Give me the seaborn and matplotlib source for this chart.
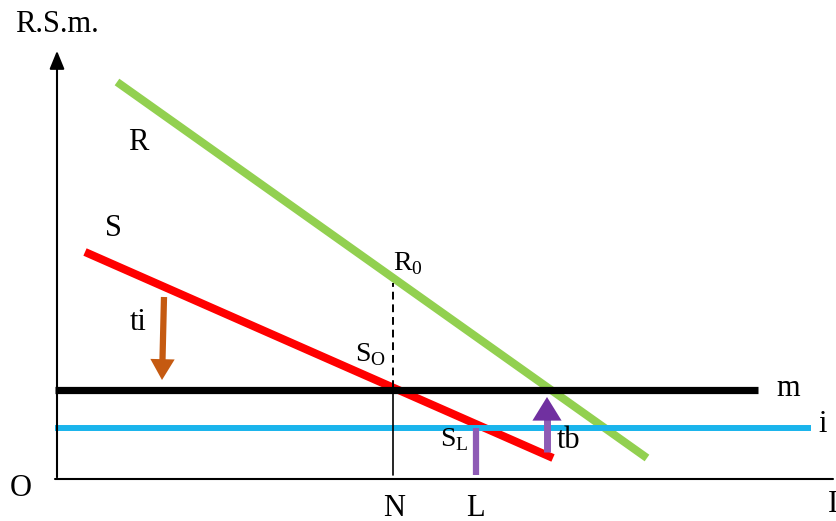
import pandas as pd
import matplotlib.pyplot as plt
import seaborn as sns

# curves (units measured from origin O)
r_x = [60, 590]
r_y = [397, 21]
s_x = [28, 496]
s_y = [227, 21]
m_x = [-2, 701]
m_y = [89, 89]
i_x = [-2, 754]
i_y = [51, 51]

# markers at N, L and the two shift arrows
n_x = 336
n_dash = [91, 196]
n_solid = [4, 89]
l_x = 419
l_bar = [4, 51]
tb_x = 490
tb_y = [27, 82]
ti_start = [107, 182]
ti_end = [105, 99]

sns.set_style("white")
plt.rcParams['font.family'] = ['Liberation Serif', 'DejaVu Serif']
plt.rcParams['text.color'] = 'black'

fig = plt.figure(figsize=(8.37, 5.21), dpi=100)
ax = fig.add_axes([0, 0, 1, 1])
ax.set_xlim(-57, 780)
ax.set_ylim(-42, 479)
ax.axis('off')

lines = pd.DataFrame({
    'x': r_x + s_x + m_x + i_x,
    'y': r_y + s_y + m_y + i_y,
    'curve': ['R'] * 2 + ['S'] * 2 + ['m'] * 2 + ['i'] * 2,
})
palette = {'R': '#92D050', 'S': '#FF0000', 'm': '#000000', 'i': '#1AB4EC'}
widths = {'R': 5.8, 'S': 5.8, 'm': 5.2, 'i': 4.3}
for name, grp in lines.groupby('curve'):
    sns.lineplot(data=grp, x='x', y='y', color=palette[name], lw=widths[name],
                 ax=ax, solid_capstyle='butt', legend=False)

# axes with arrow on vertical
ax.plot([-2, 776], [0, 0], color='black', lw=1.5)
ax.annotate('', xy=(0, 431), xytext=(0, -1),
            arrowprops=dict(arrowstyle='-|>,head_length=1.1,head_width=0.45',
                            color='black', lw=1.5))

ax.plot([n_x, n_x], n_dash, color='black', lw=1.4, ls=(0, (4, 2.5)))
ax.plot([n_x, n_x], n_solid, color='black', lw=1.2)
ax.plot([l_x, l_x], l_bar, color='#8E5BB5', lw=4.5, solid_capstyle='butt')

ax.plot([tb_x, tb_x], [tb_y[0], tb_y[1] - 15], color='#8E5BB5', lw=5,
        solid_capstyle='butt')
ax.annotate('', xy=(tb_x, tb_y[1]), xytext=(tb_x, tb_y[1] - 17),
            arrowprops=dict(arrowstyle='simple,head_length=1.7,head_width=2.1,tail_width=0.5',
                            color='#7030A0', lw=0, shrinkA=0, shrinkB=0))
ax.annotate('', xy=ti_end, xytext=ti_start,
            arrowprops=dict(arrowstyle='simple,head_length=1.5,head_width=1.75,tail_width=0.45',
                            color='#C55A11', lw=0, shrinkA=0, shrinkB=0))

fs = 22
ax.text(-42, 454, 'R.S.m.', fontsize=fs, va='center', ha='left')
ax.text(81, 336, 'R', fontsize=fs, ha='center', va='center')
ax.text(56, 251, 'S', fontsize=fs, ha='center', va='center')
ax.text(336, 215, r'R$_{\mathregular{0}}$', fontsize=fs - 2, ha='left', va='center')
ax.text(298, 124, r'S$_{\mathregular{O}}$', fontsize=fs - 2, ha='left', va='center')
ax.text(383, 39, r'S$_{\mathregular{L}}$', fontsize=fs - 2, ha='left', va='center')
ax.text(500, 38, 'tb', fontsize=fs, ha='left', va='center')
ax.text(73, 157, 'ti', fontsize=fs, ha='left', va='center')
ax.text(719, 91, 'm', fontsize=fs, ha='left', va='center')
ax.text(761, 54, 'i', fontsize=fs, ha='left', va='center')
ax.text(-36, -10, 'O', fontsize=fs, ha='center', va='center')
ax.text(337, -29, 'N', fontsize=fs, ha='center', va='center')
ax.text(418, -29, 'L', fontsize=fs, ha='center', va='center')
ax.text(771, -26, 'I', fontsize=fs, ha='left', va='center')

fig.savefig('out.png', dpi=100)
